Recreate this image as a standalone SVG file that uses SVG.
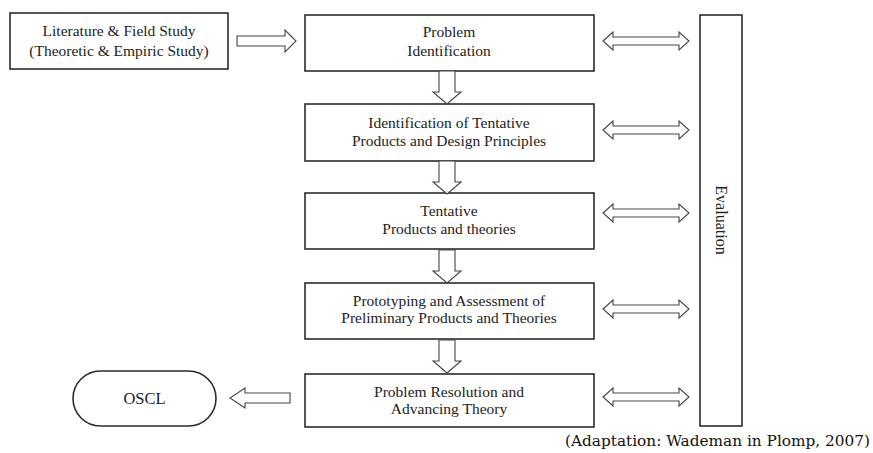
<svg xmlns="http://www.w3.org/2000/svg" width="873" height="453" viewBox="0 0 873 453">
<style>
.box{fill:#fff;stroke:#2b2b2b;stroke-width:1.6}
.arr{fill:#fff;stroke:#444;stroke-width:1.1;stroke-linejoin:miter}
.t{font-family:"Liberation Serif","Times New Roman",serif;font-size:15.5px;fill:#222;text-anchor:middle}
.cap{font-family:"DejaVu Serif","Liberation Serif",serif;font-size:15px;fill:#111}
</style>
<rect width="873" height="453" fill="#fff"/>
<defs>
<path id="down" d="M-8,0 H8 V21 H14 L0,33 L-14,21 H-8 Z"/>
<path id="dbl" d="M0,0 L10,-9 V-4 H76 V-9 L86,0 L76,9 V4 H10 V9 Z"/>
</defs>
<g id="literature">
<rect class="box" x="10" y="13" width="218" height="56"/>
<text class="t" x="119" y="36">Literature &amp; Field Study</text>
<text class="t" x="119" y="56">(Theoretic &amp; Empiric Study)</text>
</g>
<g id="problem-identification">
<rect class="box" x="305" y="15" width="289" height="56"/>
<text class="t" x="449" y="37">Problem</text>
<text class="t" x="449" y="56">Identification</text>
</g>
<g id="tentative-products-principles">
<rect class="box" x="305" y="104" width="289" height="57"/>
<text class="t" x="449" y="128">Identification of Tentative</text>
<text class="t" x="449" y="146">Products and Design Principles</text>
</g>
<g id="tentative-products-theories">
<rect class="box" x="305" y="193" width="289" height="56"/>
<text class="t" x="449" y="216">Tentative</text>
<text class="t" x="449" y="234">Products and theories</text>
</g>
<g id="prototyping">
<rect class="box" x="305" y="283" width="289" height="56"/>
<text class="t" x="449" y="306">Prototyping and Assessment of</text>
<text class="t" x="449" y="323">Preliminary Products and Theories</text>
</g>
<g id="problem-resolution">
<rect class="box" x="305" y="374" width="289" height="53"/>
<text class="t" x="449" y="397">Problem Resolution and</text>
<text class="t" x="449" y="414">Advancing Theory</text>
</g>
<g id="evaluation">
<rect class="box" x="700" y="15" width="42" height="411"/>
<text class="t" style="font-size:16px" transform="translate(716,220) rotate(90)">Evaluation</text>
</g>
<g id="oscl">
<rect class="box" x="73" y="371" width="143" height="55" rx="27.5" ry="27.5"/>
<text class="t" x="144.5" y="404" style="font-size:16.5px">OSCL</text>
</g>
<g id="connectors">
<path class="arr" d="M237,36 H285 V30 L296,41 L285,52 V46 H237 Z"/>
<path class="arr" d="M290,393 H245 V388 L230,398 L245,408 V403 H290 Z"/>
<use href="#down" class="arr" x="447" y="71"/>
<use href="#down" class="arr" x="447" y="161"/>
<use href="#down" class="arr" x="447" y="250"/>
<use href="#down" class="arr" x="447" y="340"/>
<use href="#dbl" class="arr" x="603" y="41"/>
<use href="#dbl" class="arr" x="603" y="130"/>
<use href="#dbl" class="arr" x="603" y="213"/>
<use href="#dbl" class="arr" x="603" y="309"/>
<use href="#dbl" class="arr" x="603" y="397"/>
</g>
<text class="cap" x="565" y="446" textLength="305" lengthAdjust="spacingAndGlyphs">(Adaptation: Wademan in Plomp, 2007)</text>
</svg>
